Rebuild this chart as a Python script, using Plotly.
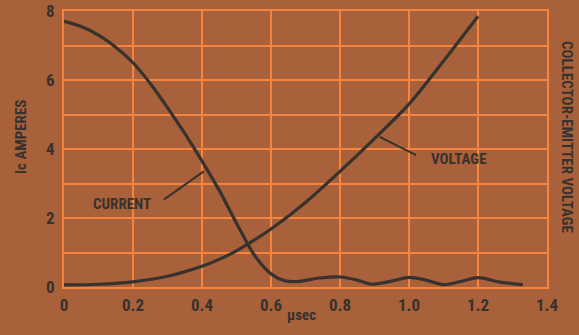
import plotly.graph_objects as go

# Collector current (A) vs time (usec)
current_t = [0.0, 0.05, 0.1, 0.15, 0.2, 0.25, 0.3, 0.35, 0.4, 0.45, 0.5, 0.55, 0.6,
             0.64, 0.68, 0.74, 0.8, 0.85, 0.89, 0.95, 1.0, 1.05, 1.1, 1.15, 1.2, 1.26, 1.33]
current_a = [7.7, 7.55, 7.3, 6.95, 6.5, 5.9, 5.2, 4.45, 3.65, 2.8, 1.85, 0.95, 0.38,
             0.18, 0.16, 0.26, 0.29, 0.2, 0.08, 0.17, 0.28, 0.2, 0.07, 0.16, 0.27, 0.15, 0.07]

# Collector-emitter voltage (arbitrary, drawn on same scale)
voltage_t = [0.0, 0.1, 0.2, 0.3, 0.4, 0.45, 0.5, 0.55, 0.6, 0.7, 0.8, 0.9, 1.0, 1.1, 1.2]
voltage_v = [0.06, 0.08, 0.15, 0.31, 0.6, 0.8, 1.05, 1.35, 1.68, 2.45, 3.35, 4.3, 5.3, 6.55, 7.85]

x_labels = ["0", "0.2", "0.4", "0.6", "0.8", "1.0", "1.2", "1.4"]

BG = "#a8613a"
GRID = "#f7843c"
INK = "#38322e"
FONT = "Liberation Sans Narrow, Roboto Condensed, Arial Narrow, sans-serif"

fig = go.Figure()
fig.add_trace(go.Scatter(x=current_t, y=current_a, mode="lines", name="CURRENT",
    line=dict(color=INK, width=3.2, shape="spline", smoothing=0.8)))
fig.add_trace(go.Scatter(x=voltage_t, y=voltage_v, mode="lines", name="VOLTAGE",
    line=dict(color=INK, width=3.2, shape="spline", smoothing=0.8)))

# curve labels with leader lines
fig.add_annotation(x=0.405, y=3.35, ax=0.285, ay=2.5, axref="x", ayref="y",
    showarrow=True, arrowhead=0, arrowwidth=2, arrowcolor=INK, text="")
fig.add_annotation(x=0.167, y=2.4, text="CURRENT", showarrow=False,
    font=dict(family=FONT, size=15, color=INK, weight="bold"))
fig.add_annotation(x=0.915, y=4.35, ax=1.025, ay=3.8, axref="x", ayref="y",
    showarrow=True, arrowhead=0, arrowwidth=2, arrowcolor=INK, text="")
fig.add_annotation(x=1.145, y=3.7, text="VOLTAGE", showarrow=False,
    font=dict(family=FONT, size=15, color=INK, weight="bold"))

# axis titles
fig.add_annotation(x=0, y=0.5, xref="paper", yref="paper", xanchor="center",
    xshift=-43, yshift=12, text="Ic AMPERES", textangle=-90, showarrow=False,
    font=dict(family=FONT, size=15, color=INK, weight="bold"))
fig.add_annotation(x=1, y=0.5, xref="paper", yref="paper", xanchor="center",
    xshift=20, yshift=12, text="COLLECTOR-EMITTER VOLTAGE", textangle=90, showarrow=False,
    font=dict(family=FONT, size=15, color=INK, weight="bold"))
fig.add_annotation(x=0.5, y=0, xref="paper", yref="paper", xanchor="center",
    yshift=-39, xshift=-4, text="\u03bcsec", showarrow=False,
    font=dict(family=FONT, size=15, color=INK, weight="bold"))

fig.update_layout(
    width=579, height=335,
    paper_bgcolor=BG, plot_bgcolor=BG,
    margin=dict(l=64, r=32, t=11, b=48),
    showlegend=False,
    font=dict(family=FONT, size=17, color=INK, weight="bold"),
)
fig.update_xaxes(range=[0, 1.4], tickmode="array", tickvals=[i * 0.2 for i in range(8)],
    ticktext=x_labels, automargin=False,
    showgrid=True, gridcolor=GRID, gridwidth=2, zeroline=False,
    showline=True, linecolor=GRID, linewidth=2, mirror=True,
    ticks="", ticklabelstandoff=2)
fig.update_yaxes(range=[0, 8], tickmode="linear", tick0=0, dtick=2, automargin=False,
    showgrid=True, gridcolor=GRID, gridwidth=2, zeroline=False,
    showline=True, linecolor=GRID, linewidth=2, mirror=True,
    minor=dict(tickmode="linear", tick0=0, dtick=1, showgrid=True, gridcolor=GRID, gridwidth=2),
    ticks="", ticklabelstandoff=4)

fig.write_html("out.html", config={"displayModeBar": False})

# drop the default page margin so the figure sits at the window's corner
with open("out.html", encoding="utf-8") as f:
    html = f.read()
html = html.replace("<head>", "<head><style>body{margin:0;background:%s}</style>" % BG, 1)
with open("out.html", "w", encoding="utf-8") as f:
    f.write(html)
